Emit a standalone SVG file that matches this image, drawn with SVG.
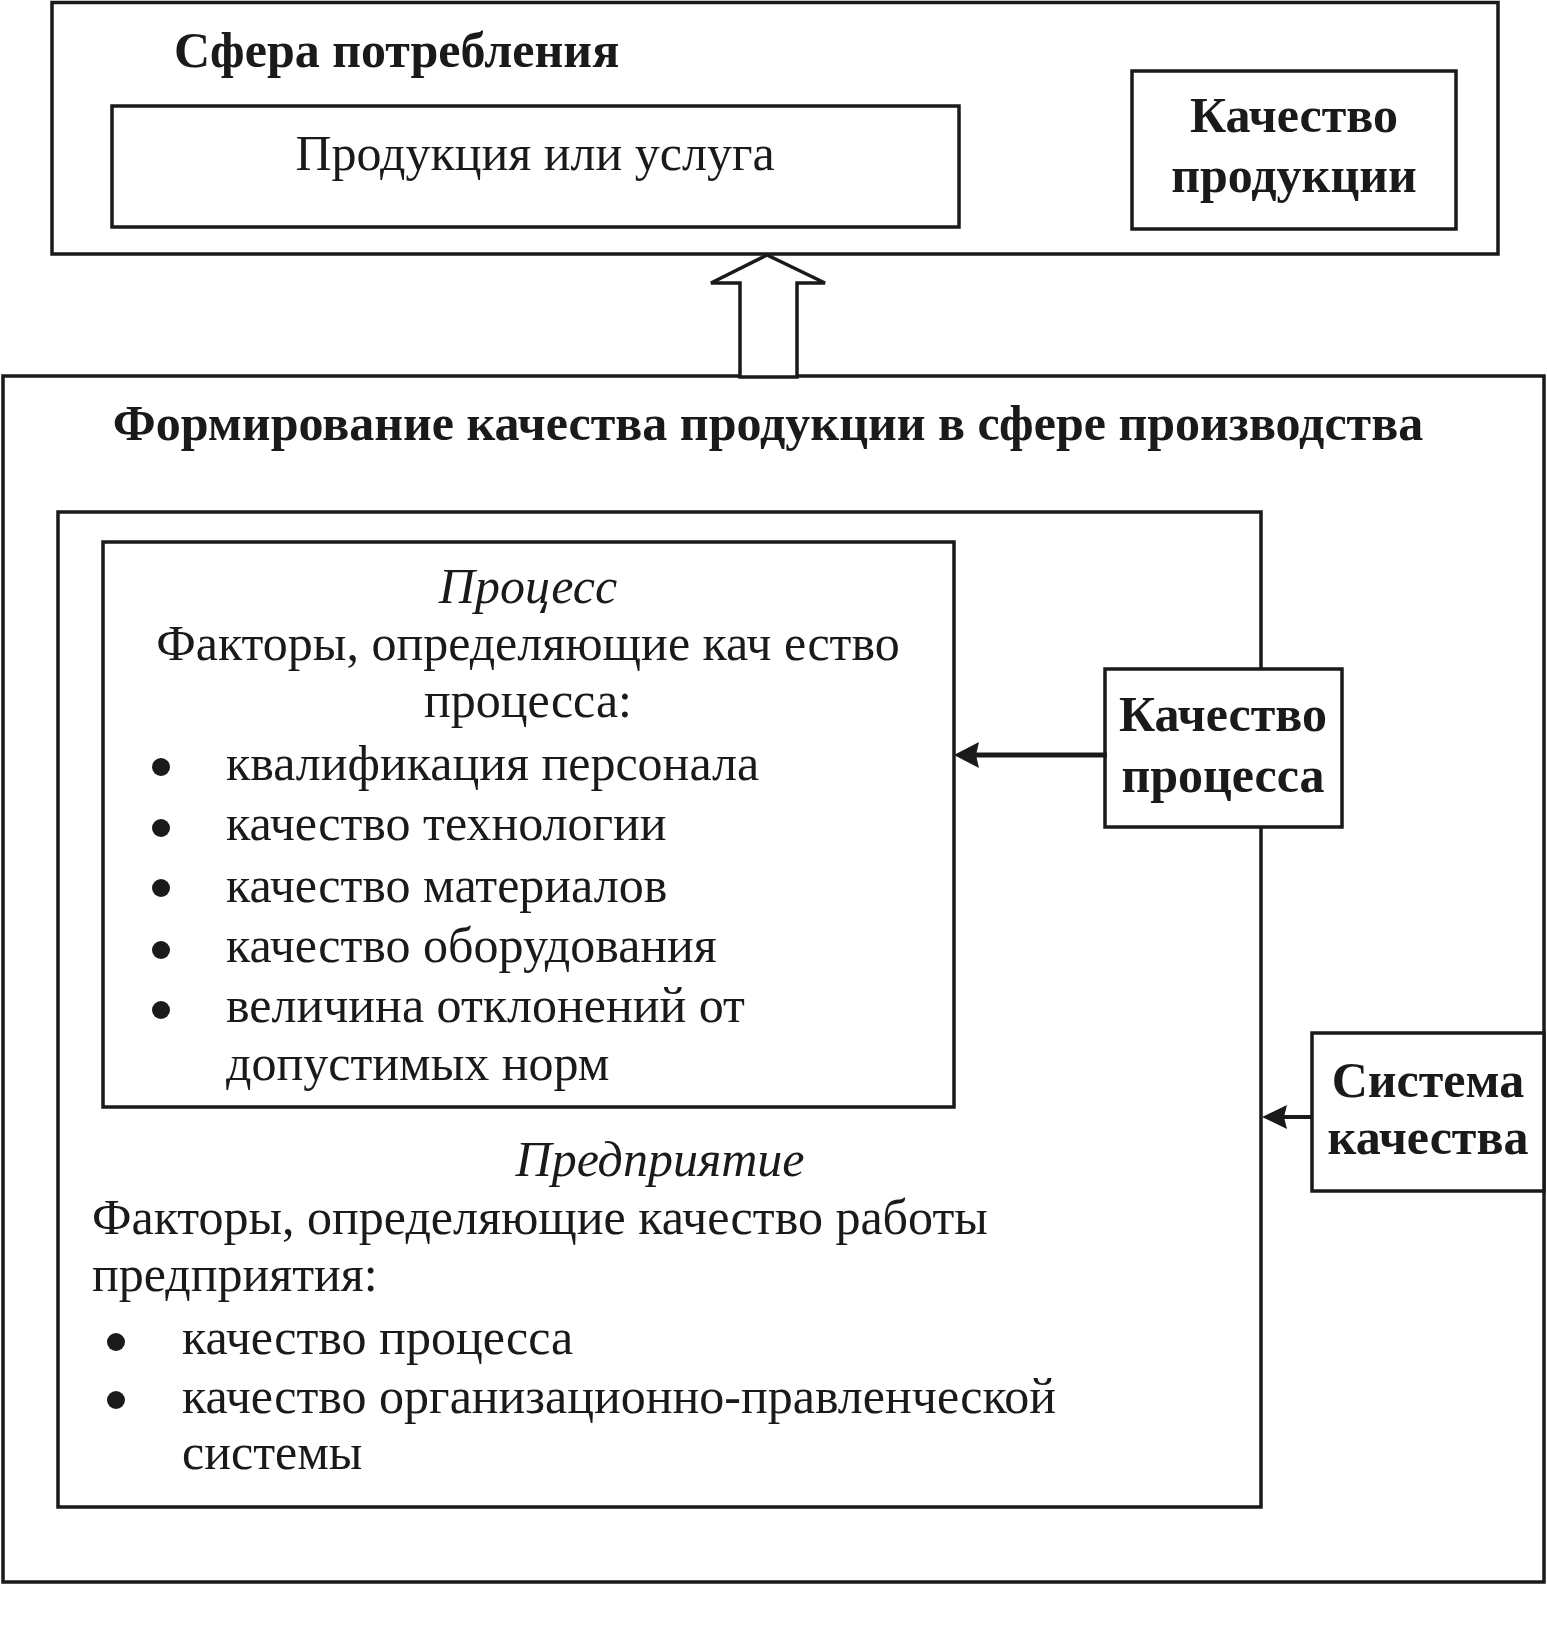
<svg xmlns="http://www.w3.org/2000/svg" width="1547" height="1631" viewBox="0 0 1547 1631">
<style>
  .box { fill: none; stroke: #1a1a1a; stroke-width: 3.5; }
  .wbox { fill: #ffffff; stroke: #1a1a1a; stroke-width: 3.5; }
  .t { font-family: "Liberation Serif", "Times New Roman", serif; font-size: 50px; fill: #1a1a1a; }
  .b { font-weight: bold; }
  .i { font-style: italic; }
  .m { text-anchor: middle; }
  .dot { fill: #1a1a1a; }
  .conn { stroke: #1a1a1a; fill: none; }
  .head { fill: #1a1a1a; stroke: none; }
</style>
<rect x="0" y="0" width="1547" height="1631" fill="#ffffff"/>

<g id="consumption">
  <rect class="box" x="52" y="2.5" width="1446" height="251.5"/>
  <text class="t b" x="174" y="67">Сфера потребления</text>
</g>

<g id="product">
  <rect class="box" x="112" y="106" width="847" height="121"/>
  <text class="t m" x="535" y="170">Продукция или услуга</text>
</g>

<g id="product-quality">
  <rect class="box" x="1132" y="71" width="324" height="158"/>
  <text class="t b m" x="1294" y="132">Качество</text>
  <text class="t b m" x="1294" y="192">продукции</text>
</g>

<g id="production">
  <rect class="box" x="3" y="376" width="1541" height="1206"/>
  <text class="t b m" x="768" y="440">Формирование качества продукции в сфере производства</text>
</g>

<g id="enterprise">
  <rect class="box" x="58" y="512" width="1203" height="995"/>
  <text class="t i m" x="660" y="1176">Предприятие</text>
  <text class="t" x="92" y="1234">Факторы, определяющие качество работы</text>
  <text class="t" x="92" y="1291">предприятия:</text>
  <circle class="dot" cx="116" cy="1342" r="9"/>
  <text class="t" x="182" y="1354">качество процесса</text>
  <circle class="dot" cx="116" cy="1400" r="9"/>
  <text class="t" x="182" y="1413">качество организационно-правленческой</text>
  <text class="t" x="182" y="1469">системы</text>
</g>

<g id="process">
  <rect class="box" x="103" y="542" width="851" height="565"/>
  <text class="t i m" x="528" y="603">Процесс</text>
  <text class="t m" x="528" y="660">Факторы, определяющие кач ество</text>
  <text class="t m" x="528" y="717">процесса:</text>
  <circle class="dot" cx="161" cy="767" r="9"/>
  <text class="t" x="226" y="780">квалификация персонала</text>
  <circle class="dot" cx="161" cy="828" r="9"/>
  <text class="t" x="226" y="840">качество технологии</text>
  <circle class="dot" cx="161" cy="888" r="9"/>
  <text class="t" x="226" y="902">качество материалов</text>
  <circle class="dot" cx="161" cy="950" r="9"/>
  <text class="t" x="226" y="962">качество оборудования</text>
  <circle class="dot" cx="161" cy="1010" r="9"/>
  <text class="t" x="226" y="1022">величина отклонений от</text>
  <text class="t" x="226" y="1080">допустимых норм</text>
</g>

<g id="process-quality">
  <rect class="wbox" x="1105" y="669" width="237" height="158"/>
  <text class="t b m" x="1223" y="731">Качество</text>
  <text class="t b m" x="1223" y="792">процесса</text>
</g>

<g id="quality-system">
  <rect class="wbox" x="1312" y="1033" width="232" height="158"/>
  <text class="t b m" x="1428" y="1097">Система</text>
  <text class="t b m" x="1428" y="1154">качества</text>
</g>

<g id="connectors">
  <polygon class="wbox" points="767,255 825,283 797,283 797,377 740,377 740,283 711,283"/>
  <line class="conn" x1="1107" y1="755" x2="975" y2="755" stroke-width="5"/>
  <polygon class="head" points="954,755 979,742 976,755 979,768"/>
  <line class="conn" x1="1312" y1="1117" x2="1283" y2="1117" stroke-width="4"/>
  <polygon class="head" points="1262,1117 1287,1105 1284,1117 1287,1129"/>
</g>
</svg>
